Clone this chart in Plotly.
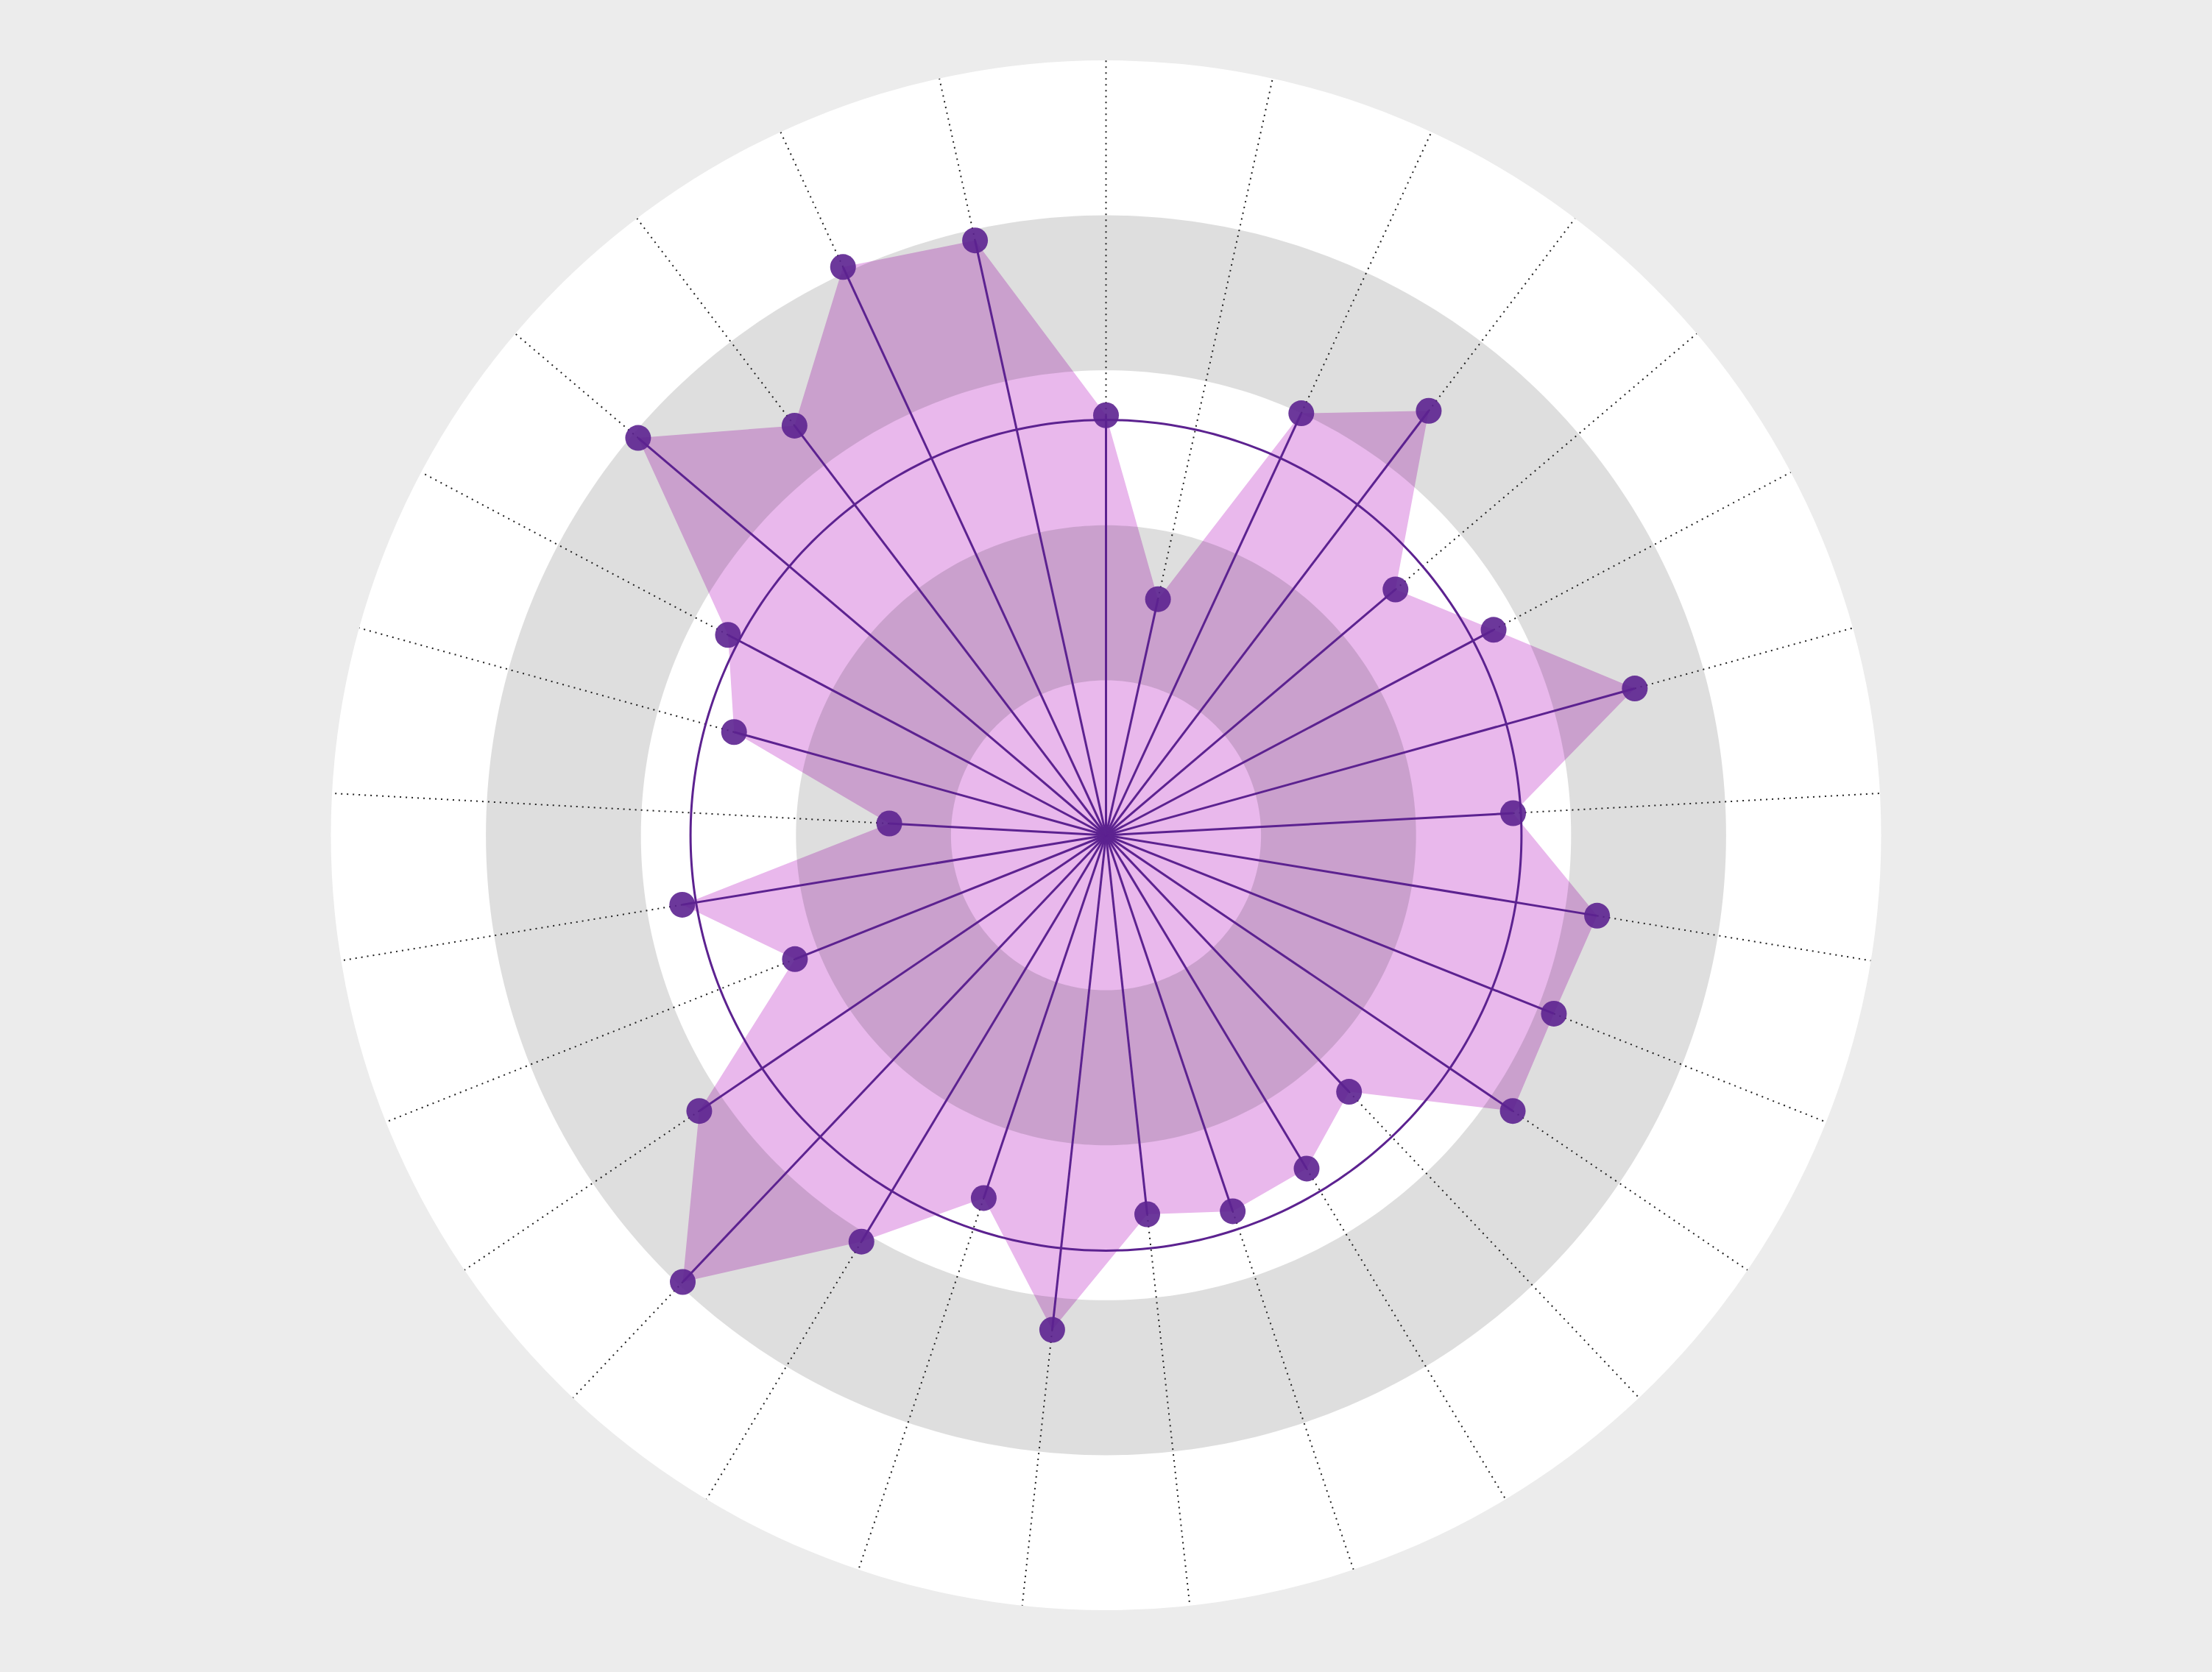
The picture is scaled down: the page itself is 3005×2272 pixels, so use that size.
import numpy as np
import plotly.graph_objects as go

# ---- data ----
categories = [f"Item {i + 1}" for i in range(29)]
values = [2.71, 1.56, 3.00, 3.44, 2.45, 2.83, 3.54, 2.63, 3.21, 3.11,
          3.17, 2.28, 2.51, 2.56, 2.46, 3.21, 2.47, 3.06, 3.97, 3.17,
          2.16, 2.77, 1.40, 2.49, 2.76, 3.96, 3.32, 4.04, 3.93]
reference_level = 2.68
radial_max = 5
shaded_bands = [(1, 2), (3, 4)]

# ---- styling ----
LINE_COLOR = "#5c2290"
FILL_COLOR = "#e9b8ec"
BAND_COLOR = "rgba(0,0,0,0.13)"
PAPER_COLOR = "#ececec"

n = len(categories)
angles = [i * 360.0 / n for i in range(n)]

fig = go.Figure()

# filled polygon
fig.add_trace(go.Scatterpolar(
    r=values, theta=angles, mode="none", fill="toself",
    fillcolor=FILL_COLOR, hoverinfo="skip", showlegend=False))

# shaded annular bands drawn over the fill
circle_t = np.linspace(0, 360, 361)
for inner, outer in shaded_bands:
    r_ring = list(np.full(circle_t.size, outer)) + list(np.full(circle_t.size, inner))
    t_ring = list(circle_t) + list(circle_t[::-1])
    fig.add_trace(go.Scatterpolar(
        r=r_ring, theta=t_ring, mode="none", fill="toself",
        fillcolor=BAND_COLOR, hoverinfo="skip", showlegend=False))

# dotted guide lines from each point to the outer edge
dot_r, dot_t = [], []
for v, a in zip(values, angles):
    dot_r += [v, radial_max, None]
    dot_t += [a, a, None]
fig.add_trace(go.Scatterpolar(
    r=dot_r, theta=dot_t, mode="lines",
    line=dict(color="#222222", width=2, dash="2px,6px"),
    hoverinfo="skip", showlegend=False))

# spokes from the centre to each point
sp_r, sp_t = [], []
for v, a in zip(values, angles):
    sp_r += [0, v, None]
    sp_t += [a, a, None]
fig.add_trace(go.Scatterpolar(
    r=sp_r, theta=sp_t, mode="lines",
    line=dict(color=LINE_COLOR, width=3),
    hoverinfo="skip", showlegend=False))

# reference circle
fig.add_trace(go.Scatterpolar(
    r=[reference_level] * circle_t.size, theta=circle_t, mode="lines",
    line=dict(color=LINE_COLOR, width=3),
    hoverinfo="skip", showlegend=False))

# markers
fig.add_trace(go.Scatterpolar(
    r=values, theta=angles, mode="markers", text=categories,
    marker=dict(size=35, color=LINE_COLOR, opacity=0.9, line=dict(width=0)),
    showlegend=False))

fig.update_layout(
    width=3005, height=2272,
    margin=dict(l=80, r=80, t=82, b=84),
    paper_bgcolor=PAPER_COLOR,
    plot_bgcolor=PAPER_COLOR,
    showlegend=False,
    polar=dict(
        bgcolor="white",
        radialaxis=dict(range=[0, radial_max], visible=False, showgrid=False),
        angularaxis=dict(visible=False, showgrid=False, rotation=90,
                         direction="clockwise", thetaunit="degrees"),
    ),
)

fig.write_html(
    "out.html",
    config={"displayModeBar": False},
    post_script="document.body.style.margin='0';document.body.style.padding='0';"
                "document.body.style.overflow='hidden';"
                "document.body.style.background='" + PAPER_COLOR + "';",
)
